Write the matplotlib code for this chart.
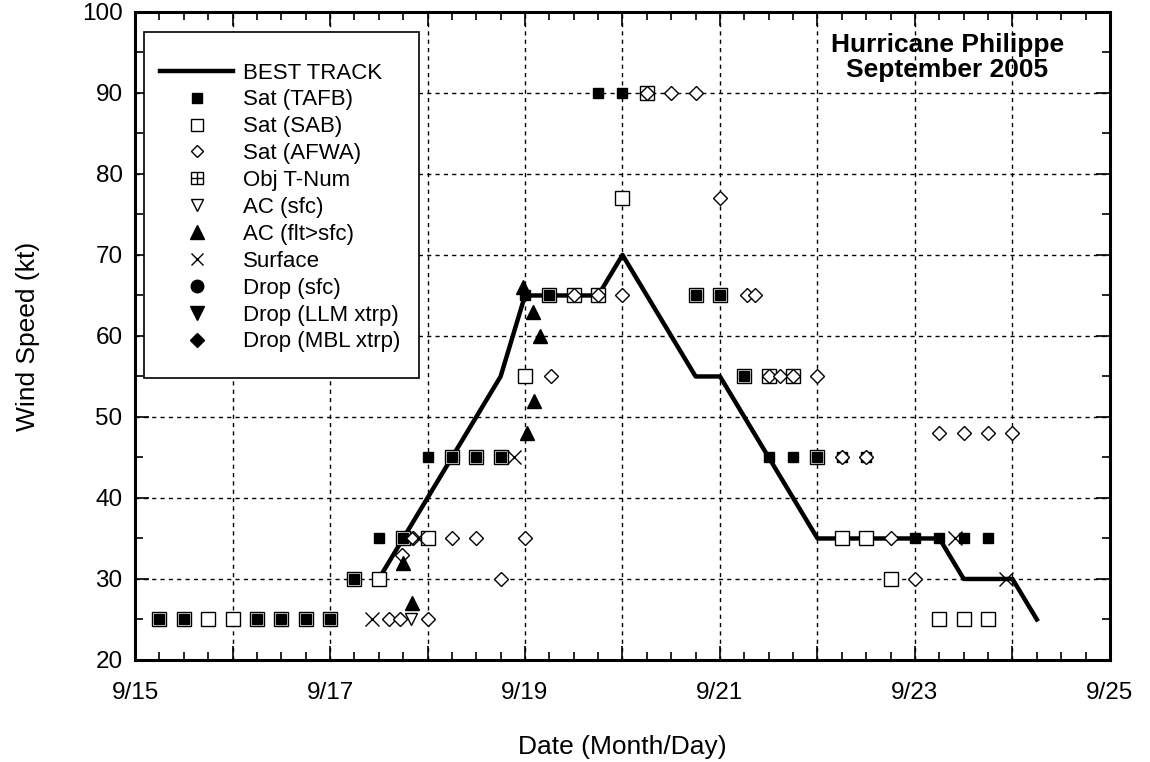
import matplotlib
matplotlib.use("Agg")
import matplotlib.pyplot as plt
from matplotlib.lines import Line2D
from matplotlib.patches import Rectangle
from matplotlib.ticker import MultipleLocator, FuncFormatter
from matplotlib.legend_handler import HandlerTuple

plt.rcParams['font.family'] = ['Liberation Sans', 'DejaVu Sans']

# times are day of September (UTC, fractional), speeds in kt
bt_day = [17.5, 17.75, 18.0, 18.25, 18.5, 18.75, 19.0, 19.25, 19.5, 19.75,
          20.0, 20.25, 20.5, 20.75, 21.0, 21.25, 21.5, 21.75, 22.0, 22.25,
          22.5, 22.75, 23.0, 23.25, 23.5, 23.75, 24.0, 24.25]
bt_kt = [30, 35, 40, 45, 50, 55, 65, 65, 65, 65,
         70, 65, 60, 55, 55, 50, 45, 40, 35, 35,
         35, 35, 35, 35, 30, 30, 30, 25]

tafb_day = [15.25, 15.5, 16.25, 16.5, 16.75, 17.0, 17.25, 17.5, 17.75, 18.0,
            18.25, 18.5, 18.75, 19.0, 19.25, 19.75, 20.0, 20.75, 21.0, 21.25,
            21.5, 21.75, 22.0, 22.25, 22.5, 23.0, 23.25, 23.5, 23.75]
tafb_kt = [25, 25, 25, 25, 25, 25, 30, 35, 35, 45,
           45, 45, 45, 65, 65, 90, 90, 65, 65, 55,
           45, 45, 45, 45, 45, 35, 35, 35, 35]

sab_day = [15.25, 15.5, 15.75, 16.0, 16.25, 16.5, 16.75, 17.0, 17.25, 17.5,
           17.75, 18.0, 18.25, 18.5, 18.75, 19.0, 19.25, 19.5, 19.75, 20.0,
           20.25, 20.75, 21.0, 21.25, 21.5, 21.75, 22.0, 22.25, 22.5, 22.75,
           23.25, 23.5, 23.75]
sab_kt = [25, 25, 25, 25, 25, 25, 25, 25, 30, 30,
          35, 35, 45, 45, 45, 55, 65, 65, 65, 77,
          90, 65, 65, 55, 55, 55, 45, 35, 35, 30,
          25, 25, 25]

afwa_day = [17.6, 17.72, 17.74, 17.85, 18.0, 18.25, 18.5, 18.75, 19.0, 19.27,
            19.5, 19.75, 20.0, 20.25, 20.5, 20.75, 21.0, 21.28, 21.36, 21.5,
            21.62, 21.75, 22.0, 22.25, 22.5, 22.75, 23.0, 23.25, 23.5, 23.75,
            24.0]
afwa_kt = [25, 25, 33, 35, 25, 35, 35, 30, 35, 55,
           65, 65, 65, 90, 90, 90, 77, 65, 65, 55,
           55, 55, 55, 45, 45, 35, 30, 48, 48, 48,
           48]

ac_sfc_day = [17.83]
ac_sfc_kt = [25]

ac_flt_day = [17.75, 17.84, 19.02, 19.09, 18.98, 19.08, 19.15]
ac_flt_kt = [32, 27, 48, 52, 66, 63, 60]

sfc_day = [17.43, 17.9, 18.89, 23.41, 23.93]
sfc_kt = [25, 35, 45, 35, 30]

fig = plt.figure(figsize=(11.5, 7.62), dpi=100)
ax = fig.add_axes([0.1174, 0.1339, 0.8478, 0.8504])

ax.plot(bt_day, bt_kt, color='black', lw=3.2, zorder=3)
ax.plot(sab_day, sab_kt, ls='none', marker='s', ms=10.5, mfc='white',
        mec='black', mew=1.0, zorder=3)
ax.plot(tafb_day, tafb_kt, ls='none', marker='s', ms=7.5, mfc='black',
        mec='black', zorder=4)
ax.plot(afwa_day, afwa_kt, ls='none', marker='D', ms=7, mfc='white',
        mec='black', mew=1.0, zorder=4)
ax.plot(ac_sfc_day, ac_sfc_kt, ls='none', marker='v', ms=9, mfc='white',
        mec='black', mew=1.0, zorder=4)
ax.plot(ac_flt_day, ac_flt_kt, ls='none', marker='^', ms=10, mfc='black',
        mec='black', zorder=5)
ax.plot(sfc_day, sfc_kt, ls='none', marker='x', ms=10, mec='black',
        mew=1.0, zorder=4)

ax.set_xlim(15, 25)
ax.set_ylim(20, 100)
ax.xaxis.set_major_locator(MultipleLocator(1))
ax.xaxis.set_minor_locator(MultipleLocator(0.25))
ax.yaxis.set_major_locator(MultipleLocator(10))
ax.yaxis.set_minor_locator(MultipleLocator(5))
ax.xaxis.set_major_formatter(FuncFormatter(
    lambda v, pos: '9/%d' % round(v) if round(v) % 2 == 1 else ''))
ax.tick_params(which='both', direction='in', top=True, right=True,
               labelsize=17.5, color='black')
ax.tick_params(which='major', length=10, width=1.2)
ax.tick_params(which='minor', length=6, width=1.2)
ax.tick_params(axis='x', pad=16)
ax.tick_params(axis='y', pad=9)
for s in ax.spines.values():
    s.set_linewidth(2.2)

ax.grid(True, which='major', color='black', lw=1.0, ls=(0, (3, 3)))
ax.set_axisbelow(True)

ax.set_xlabel('Date (Month/Day)', fontsize=19, labelpad=22)
ax.set_ylabel('Wind Speed (kt)', fontsize=19, labelpad=30)

ax.text(0.833, 0.968, 'Hurricane Philippe\nSeptember 2005', transform=ax.transAxes,
        ha='center', va='top', fontsize=19, fontweight='bold', linespacing=1.05)

# legend box
ax.add_patch(Rectangle((0.0092, 0.435), 0.282, 0.534, transform=ax.transAxes,
                       facecolor='white', edgecolor='black', lw=1.2, zorder=6))

handles = [
    Line2D([], [], color='black', lw=3.2),
    Line2D([], [], ls='none', marker='s', ms=7, mfc='black', mec='black'),
    Line2D([], [], ls='none', marker='s', ms=9, mfc='white', mec='black'),
    Line2D([], [], ls='none', marker='D', ms=6.5, mfc='white', mec='black'),
    (Line2D([], [], ls='none', marker='s', ms=9, mfc='white', mec='black'),
     Line2D([], [], ls='none', marker='+', ms=9, mec='black')),
    Line2D([], [], ls='none', marker='v', ms=9, mfc='white', mec='black'),
    Line2D([], [], ls='none', marker='^', ms=10, mfc='black', mec='black'),
    Line2D([], [], ls='none', marker='x', ms=9, mec='black'),
    Line2D([], [], ls='none', marker='o', ms=9, mfc='black', mec='black'),
    Line2D([], [], ls='none', marker='v', ms=10, mfc='black', mec='black'),
    Line2D([], [], ls='none', marker='D', ms=7, mfc='black', mec='black'),
]
labels = ['BEST TRACK', 'Sat (TAFB)', 'Sat (SAB)', 'Sat (AFWA)', 'Obj T-Num',
          'AC (sfc)', 'AC (flt>sfc)', 'Surface', 'Drop (sfc)',
          'Drop (LLM xtrp)', 'Drop (MBL xtrp)']
leg = ax.legend(handles, labels, loc='upper left', bbox_to_anchor=(0.0256, 0.922),
                frameon=False, borderpad=0, borderaxespad=0, fontsize=16,
                handlelength=3.3, handletextpad=0.45, labelspacing=0.265,
                handler_map={tuple: HandlerTuple(ndivide=1)})
leg.set_zorder(7)

fig.savefig('out.png', dpi=100)
